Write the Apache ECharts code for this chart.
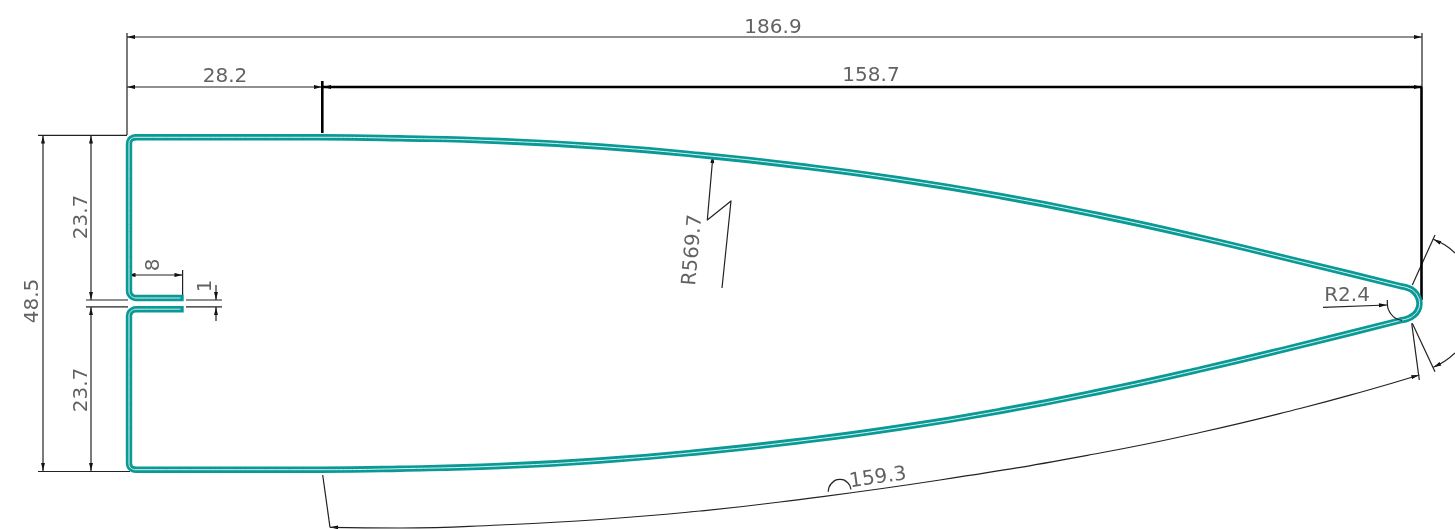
<!DOCTYPE html>
<html><head><meta charset="utf-8">
<style>html,body{margin:0;padding:0;background:#fff}#c{width:1455px;height:529px}</style>
<script src="https://cdn.jsdelivr.net/npm/echarts@6/dist/echarts.min.js"></script>
</head><body><div id="c"></div>
<script>
// Profile outline (drawing units = picture pixels)
const outlineX = [180.5,136,132.5,130,129,129,130,132.5,136,320,400,500,600,700,800,900,1000,1100,1200,1300,1400,1408,1414,1418,1419.5,1418,1414,1408,1400,1300,1200,1100,1000,900,800,700,600,500,400,320,136,132.5,130,129,129,130,132.5,136,180.5];
const outlineY = [298,298,297,294.5,291,144,140,138,137.3,137.3,138.3,141,146.5,155,166,179.5,196,215.5,237.5,261.5,286,288,291.5,297,303.5,310,315,318.5,320.5,345.5,369.5,391.5,411,427.5,441,452,460.5,466,468.7,469.7,469.7,469,467,463,316,312.5,310.2,309.2,309.2];

const thinLines = [
  [127,37,1422,37],
  [127,33,127,135],
  [1422,33,1422,87],
  [127,87,322,87],
  [38,135.3,127,135.3],
  [38,471.5,130,471.5],
  [43,135,43,471.5],
  [91,135,91,300],
  [91,307,91,471.5],
  [86,300,128,300],
  [86,306.8,128,306.8],
  [186,300,222,300],
  [186,306.8,222,306.8],
  [127.3,275,182.6,275],
  [127.3,270,127.3,291],
  [182.6,270,182.6,295],
  [216,285,216,300],
  [216,307,216,321],
  [713,155,707.3,220,731,201,722,288],
  [1323,307.3,1387,305],
  [1412.3,285,1435,235],
  [1412.3,323.3,1435,371.7],
  [1411.7,323.3,1419.3,380],
  [322.7,475,330,527.3]
];
const thickLines = [
  [322,87,1422,87],
  [1421.5,87,1421.5,300],
  [322.3,81,322.3,133]
];
const curves = [
  [330,527.3,400,528,500,525,600,519.5,700,511,780,502,940,480,1100,453,1200,432.5,1300,408.5,1365,391,1419.3,375],
  [1433.3,239.3,1445,245,1455,253],
  [1433.3,367.3,1445,361,1455,353],
  [828.3,491.7,831,484,840,479.3,848,483,851,489.3]
];
const radiusArc = [1387.3,300,1387.5,306,1391,314,1396,318.5,1402,320.5];
// tip x, tip y, direction x, direction y
const arrows = [
  [127,37,-1,0],[1422,37,1,0],[127,87,-1,0],[322,87,1,0],[323,87,-1,0],[1422,87,1,0],
  [43,135.5,0,-1],[43,471,0,1],[91,135.5,0,-1],[91,300,0,1],[91,307,0,-1],[91,471,0,1],
  [127.5,275,-1,0],[182.5,275,1,0],[216,300,0,1],[216,307,0,-1],
  [713,155,0.09,-1],[1387,305,1,-0.03],
  [1433.3,239.3,-1,-0.5],[1433.3,367.3,-1,0.5],[1419.3,375,1,-0.27],[330,527.3,-1,0]
];
const labelTexts = ['186.9','28.2','158.7','23.7','23.7','48.5','8','1','R569.7','R2.4','159.3'];
const labelX = [773,225,871,82,82,33,154,206,693,1347,878];
const labelY = [28,77,76,217,390,301,265,286,250,296,478];
const labelRotate = [0,0,0,90,90,90,90,90,85,0,8];

const toPts = a => { const p=[]; for(let i=0;i<a.length;i+=2) p.push([a[i],a[i+1]]); return p; };
const lineSeries = (data,color,width,extra) => Object.assign({
  type:'line',data,showSymbol:false,symbol:'none',silent:true,animation:false,
  lineStyle:{color,width,join:'round'}
},extra||{});

const outlinePts = outlineX.map((x,i)=>[x,outlineY[i]]);
const series = [];
series.push(...thinLines.map(a=>lineSeries(toPts(a),'#222',1.2)));
series.push(...curves.map(a=>lineSeries(toPts(a),'#222',1.2,{smooth:0.5})));
series.push(...thickLines.map(a=>lineSeries(toPts(a),'#000',2.6)));
series.push({
  type:'custom',silent:true,animation:false,data:arrows,
  renderItem(p,api){
    const t=api.coord([api.value(0),api.value(1)]);
    let dx=api.value(2),dy=api.value(3);const n=Math.hypot(dx,dy);dx/=n;dy/=n;
    const L=8,W=1.9;
    return {type:'polygon',shape:{points:[t,[t[0]-dx*L-dy*W,t[1]-dy*L+dx*W],[t[0]-dx*L+dy*W,t[1]-dy*L-dx*W]]},style:{fill:'#000'}};
  }
});
series.push(lineSeries(outlinePts,'#0a9a96',6.4,{smooth:0.5,z:5}));
series[series.length-1].lineStyle.cap='square';
series.push(lineSeries(outlinePts,'#d8f0ee',1,{smooth:0.5,z:6}));
series.push(lineSeries(toPts(radiusArc),'#222',1.2,{smooth:0.5,z:6}));
series.push({
  type:'scatter',silent:true,animation:false,symbolSize:1,z:7,
  itemStyle:{color:'rgba(0,0,0,0)'},
  data:labelTexts.map((t,i)=>({
    name:t,value:[labelX[i],labelY[i]],
    label:{show:true,position:'inside',formatter:t,rotate:labelRotate[i],align:'center',verticalAlign:'middle',
      fontFamily:'"DejaVu Sans"',fontSize:20,color:'#3a3a3a',fontWeight:'normal'}
  }))
});
const chart = echarts.init(document.getElementById('c'),null,{renderer:'canvas'});
chart.setOption({
  animation:false,backgroundColor:'#fff',
  grid:{left:0,right:0,top:0,bottom:0},
  xAxis:{type:'value',min:0,max:1455,show:false},
  yAxis:{type:'value',min:0,max:529,inverse:true,show:false},
  series
});
</script></body></html>
